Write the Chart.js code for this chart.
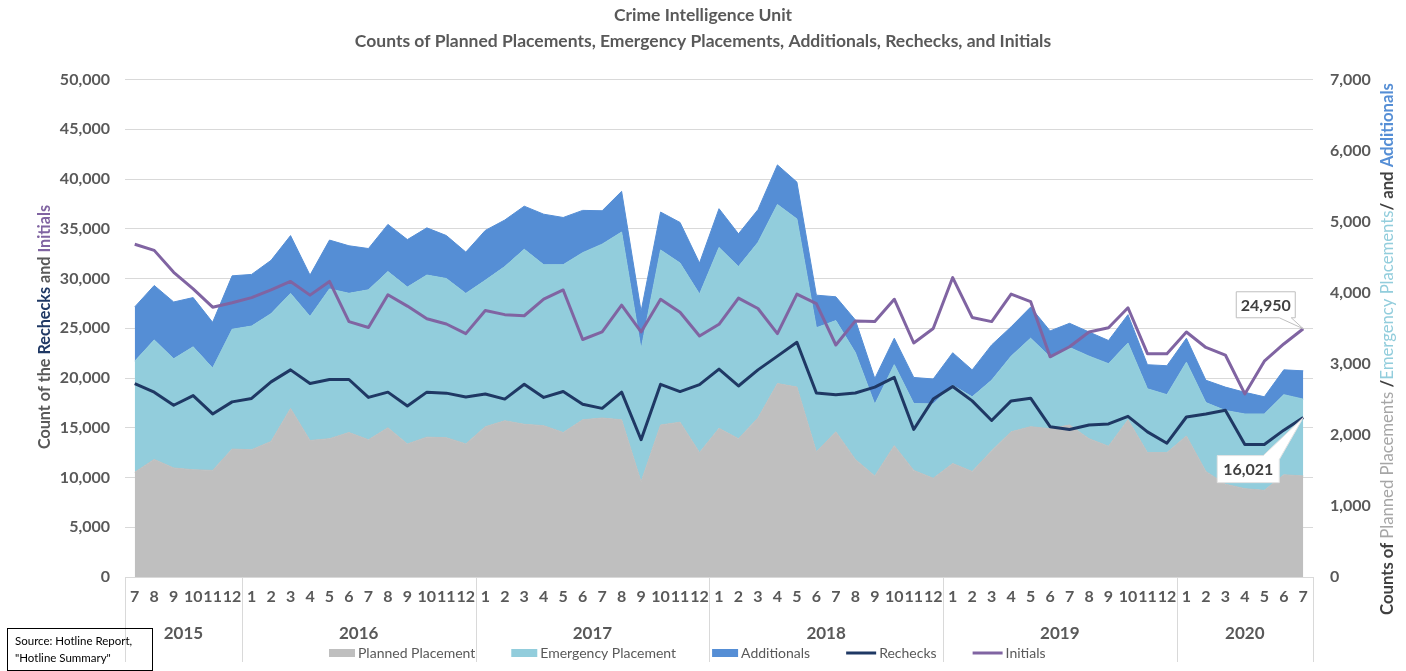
<!DOCTYPE html>
<html>
<head>
<meta charset="utf-8">
<script src="https://cdn.jsdelivr.net/npm/chart.js@4.4.0/dist/chart.umd.min.js"></script>
<style>
  html, body { margin: 0; padding: 0; background: #fff; }
  #wrap { position: relative; width: 1406px; height: 671px; }
</style>
</head>
<body>
<div id="wrap"><canvas id="chart" width="1406" height="671"></canvas></div>
<script>
// month ticks, grouped by year
var months = ['7','8','9','10','11','12',
  '1','2','3','4','5','6','7','8','9','10','11','12',
  '1','2','3','4','5','6','7','8','9','10','11','12',
  '1','2','3','4','5','6','7','8','9','10','11','12',
  '1','2','3','4','5','6','7','8','9','10','11','12',
  '1','2','3','4','5','6','7'];
var years = ['2015', '2016', '2017', '2018', '2019', '2020'];
var yearLengths = [6, 12, 12, 12, 12, 7];

// right axis (stacked areas)
var planned = [1474,1655,1534,1509,1500,1800,
  1791,1907,2372,1921,1946,2033,1931,2100,1872,1968,1960,1873,
  2115,2198,2149,2129,2033,2212,2237,2212,1340,2139,2178,1751,
  2092,1946,2237,2722,2673,1761,2043,1655,1422,1848,1500,1389,
  1597,1485,1777,2043,2115,2086,2139,1946,1840,2212,1751,1751,
  1984,1485,1306,1243,1219,1438,1422];
var emergency = [1563,1681,1537,1730,1440,1686,
  1740,1799,1619,1746,2108,1959,2110,2198,2208,2281,2240,2118,
  2061,2170,2463,2265,2362,2352,2447,2642,1866,2463,2240,2230,
  2545,2422,2471,2520,2366,1746,1565,1504,1008,1140,940,1047,
  1100,1050,993,1065,1245,1012,1091,1162,1162,1081,897,815,
  1039,969,1037,1051,1075,1128,1081];
var additionals = [764,766,799,693,644,752,
  727,750,813,581,687,669,581,664,668,664,605,581,
  701,655,606,711,664,595,470,573,533,533,571,437,
  546,461,461,557,518,459,335,459,363,372,368,350,
  459,379,496,413,438,365,340,340,326,399,339,407,
  337,315,329,305,242,349,398];

// left axis (lines)
var rechecks = [19440,18580,17260,18230,16390,17600,
  17950,19610,20820,19440,19850,19850,18050,18580,17190,18580,18480,18100,
  18400,17880,19370,18050,18640,17360,16950,18580,13800,19370,18640,19330,
  20890,19200,20820,22200,23590,18500,18330,18500,19090,20060,14830,17880,
  19150,17700,15730,17700,17970,15110,14830,15280,15390,16150,14590,13450,
  16080,16390,16770,13310,13310,14760,16021];
var initials = [33450,32830,30620,28960,27120,27560,
  28080,28850,29710,28330,29710,25670,25080,28370,27230,25950,25430,24460,
  26780,26370,26260,27920,28850,23870,24630,27330,24630,27920,26610,24220,
  25400,28030,26990,24460,28440,27470,23320,25740,25670,27920,23520,24980,
  30100,26090,25670,28440,27680,22130,23140,24630,25050,27060,22450,22450,
  24630,23070,22310,18400,21690,23420,24950];

var FONT = 'Lato, "Open Sans", sans-serif';
var GREY_TXT = '#595959';
var C_PLANNED = '#bfbfbf', C_EMERG = '#92cddc', C_ADD = '#558ed5';
var C_RECHECK = '#1f3864', C_INIT = '#8064a2';

Chart.defaults.font.family = FONT;
Chart.defaults.color = GREY_TXT;

function fmt(v) { return Number(v).toLocaleString('en-US'); }

// draws a line of text made of coloured pieces, centred on 0,0 of the current transform
function drawPieces(ctx, pieces, size) {
    var total = 0;
    pieces.forEach(function(p) {
        ctx.font = (p[2] ? 'bold ' : '') + size + 'px ' + FONT;
        p.w = ctx.measureText(p[0]).width;
        total += p.w;
    });
    var x = -total / 2;
    ctx.textAlign = 'left';
    ctx.textBaseline = 'middle';
    pieces.forEach(function(p) {
        ctx.font = (p[2] ? 'bold ' : '') + size + 'px ' + FONT;
        ctx.fillStyle = p[1];
        ctx.fillText(p[0], x, 0);
        x += p.w;
    });
}

var extras = {
    id: 'extras',
    afterDraw: function(chart) {
        var ctx = chart.ctx, area = chart.chartArea, xs = chart.scales.x;
        ctx.save();

        // year groups under the month ticks
        var edges = [area.left], c = 0;
        yearLengths.forEach(function(n) {
            c += n;
            if (c >= months.length) edges.push(area.right);
            else edges.push((xs.getPixelForValue(c - 1) + xs.getPixelForValue(c)) / 2);
        });
        ctx.strokeStyle = '#d9d9d9';
        ctx.lineWidth = 1;
        edges.forEach(function(x) {
            ctx.beginPath();
            ctx.moveTo(Math.round(x) + 0.5, area.bottom);
            ctx.lineTo(Math.round(x) + 0.5, 662);
            ctx.stroke();
        });
        ctx.font = 'bold 17px ' + FONT;
        ctx.fillStyle = GREY_TXT;
        ctx.textAlign = 'center';
        ctx.textBaseline = 'middle';
        years.forEach(function(y, i) {
            ctx.fillText(y, (edges[i] + edges[i + 1]) / 2, 634);
        });

        // legend
        var order = [2, 3, 4, 0, 1];
        var lx = 329, ly = 653;
        ctx.font = '14px ' + FONT;
        order.forEach(function(di) {
            var ds = chart.data.datasets[di];
            var isLine = ds.yAxisID === 'y';
            var bw = isLine ? 30 : 26;
            if (isLine) {
                ctx.strokeStyle = ds.borderColor;
                ctx.lineWidth = 3;
                ctx.beginPath();
                ctx.moveTo(lx, ly);
                ctx.lineTo(lx + bw, ly);
                ctx.stroke();
            } else {
                ctx.fillStyle = ds.backgroundColor;
                ctx.fillRect(lx, ly - 4, bw, 8);
            }
            ctx.fillStyle = GREY_TXT;
            ctx.textAlign = 'left';
            ctx.fillText(ds.label, lx + bw + 3, ly);
            lx += bw + 3 + ctx.measureText(ds.label).width + 36;
        });

        // left axis title
        ctx.save();
        ctx.translate(45, 327);
        ctx.rotate(-Math.PI / 2);
        drawPieces(ctx, [
            ['Count of the ', GREY_TXT, true],
            ['Rechecks', C_RECHECK, true],
            [' and ', GREY_TXT, true],
            ['Initials', C_INIT, true]
        ], 16.2);
        ctx.restore();

        // right axis title
        ctx.save();
        ctx.translate(1388, 349);
        ctx.rotate(-Math.PI / 2);
        drawPieces(ctx, [
            ['Counts of ', '#404040', true],
            ['Planned Placements ', '#a6a6a6', false],
            ['/', '#404040', true],
            ['Emergency Placements', C_EMERG, false],
            ['/ and ', '#404040', true],
            ['Additionals', C_ADD, true]
        ], 16.7);
        ctx.restore();

        // callouts on the last points
        function callout(di, dx, dy, w, h, below, border) {
            var meta = chart.getDatasetMeta(di);
            var pt = meta.data[meta.data.length - 1];
            var val = chart.data.datasets[di].data[meta.data.length - 1];
            var bx = pt.x + dx, by = pt.y + dy;
            ctx.beginPath();
            if (below) {
                ctx.moveTo(bx, by);
                ctx.lineTo(bx + w - 16, by);
                ctx.lineTo(pt.x, pt.y);
                ctx.lineTo(bx + w, by + 4);
                ctx.lineTo(bx + w, by + h);
                ctx.lineTo(bx, by + h);
            } else {
                ctx.moveTo(bx, by);
                ctx.lineTo(bx + w, by);
                ctx.lineTo(bx + w, by + h);
                ctx.lineTo(bx + w - 4, by + h);
                ctx.lineTo(pt.x, pt.y);
                ctx.lineTo(bx + w - 16, by + h);
                ctx.lineTo(bx, by + h);
            }
            ctx.closePath();
            ctx.fillStyle = '#fff';
            ctx.fill();
            ctx.strokeStyle = border;
            ctx.lineWidth = 1;
            ctx.stroke();
            ctx.font = 'bold 16px ' + FONT;
            ctx.fillStyle = '#404040';
            ctx.textAlign = 'center';
            ctx.textBaseline = 'middle';
            ctx.fillText(fmt(val), bx + w / 2, by + h / 2 + 1);
        }
        callout(1, -67, -37, 59, 26, false, '#bfbfbf');
        callout(0, -86, 38, 62, 27, true, '#e3e3e3');

        // source note
        ctx.strokeStyle = '#000';
        ctx.lineWidth = 1;
        ctx.strokeRect(7.5, 628.5, 145, 42);
        ctx.font = '11.5px ' + FONT;
        ctx.fillStyle = '#000';
        ctx.textAlign = 'left';
        ctx.textBaseline = 'middle';
        ctx.fillText('Source: Hotline Report,', 15, 641);
        ctx.fillText('"Hotline Summary"', 15, 658);

        ctx.restore();
    }
};

var ctx = document.getElementById('chart').getContext('2d');
var myChart = new Chart(ctx, {
    type: 'line',
    data: {
        labels: months,
        datasets: [
            {
                label: 'Rechecks',
                data: rechecks,
                yAxisID: 'y',
                borderColor: C_RECHECK,
                borderWidth: 3,
                borderJoinStyle: 'round',
                pointRadius: 0,
                fill: false
            },
            {
                label: 'Initials',
                data: initials,
                yAxisID: 'y',
                borderColor: C_INIT,
                borderWidth: 3,
                borderJoinStyle: 'round',
                pointRadius: 0,
                fill: false
            },
            {
                label: 'Planned Placement',
                data: planned,
                yAxisID: 'y1',
                backgroundColor: C_PLANNED,
                borderColor: C_PLANNED,
                borderWidth: 1,
                pointRadius: 0,
                fill: 'origin'
            },
            {
                label: 'Emergency Placement',
                data: emergency,
                yAxisID: 'y1',
                backgroundColor: C_EMERG,
                borderColor: C_EMERG,
                borderWidth: 1,
                pointRadius: 0,
                fill: '-1'
            },
            {
                label: 'Additionals',
                data: additionals,
                yAxisID: 'y1',
                backgroundColor: C_ADD,
                borderColor: C_ADD,
                borderWidth: 1,
                pointRadius: 0,
                fill: '-1'
            }
        ]
    },
    options: {
        responsive: false,
        animation: false,
        devicePixelRatio: 1,
        layout: { padding: 0 },
        elements: { line: { tension: 0 } },
        plugins: {
            legend: { display: false },
            tooltip: { enabled: false },
            title: {
                display: true,
                text: ['Crime Intelligence Unit',
                       'Counts of Planned Placements, Emergency Placements, Additionals, Rechecks, and Initials'],
                color: GREY_TXT,
                font: { family: FONT, size: 17.5, weight: 'bold', lineHeight: 1.49 },
                padding: { top: 2, bottom: 25.4 }
            }
        },
        scales: {
            x: {
                offset: true,
                grid: { display: false, drawTicks: false },
                border: { display: true, color: '#d9d9d9' },
                ticks: {
                    autoSkip: false,
                    maxRotation: 0,
                    minRotation: 0,
                    padding: 10,
                    color: GREY_TXT,
                    font: { size: 16, weight: 'bold' }
                },
                afterFit: function(s) { s.height = 94; }
            },
            y: {
                position: 'left',
                min: 0,
                max: 50000,
                grid: { color: '#d9d9d9', drawTicks: false },
                border: { display: false },
                ticks: {
                    stepSize: 5000,
                    padding: 15,
                    color: GREY_TXT,
                    font: { size: 16, weight: 'bold' },
                    callback: function(v) { return fmt(v); }
                },
                afterFit: function(s) { s.width = 125; }
            },
            y1: {
                position: 'right',
                stacked: true,
                min: 0,
                max: 7000,
                grid: { display: false, drawTicks: false },
                border: { display: false },
                ticks: {
                    stepSize: 1000,
                    padding: 17,
                    color: GREY_TXT,
                    font: { size: 16, weight: 'bold' },
                    callback: function(v) { return fmt(v); }
                },
                afterFit: function(s) { s.width = 93; }
            }
        }
    },
    plugins: [extras]
});
</script>
</body>
</html>
